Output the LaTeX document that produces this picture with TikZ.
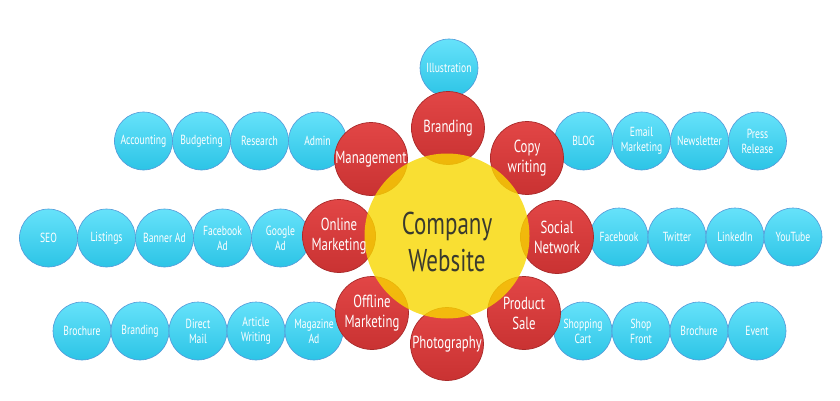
\documentclass[tikz,border=0pt]{standalone}
\usepackage{fontspec}
\setmainfont[FakeStretch=0.73]{PT Sans}
\begin{document}
\begin{tikzpicture}[x=1pt,y=-1pt,
  bluec/.style={circle,minimum size=58pt,inner sep=0pt,draw=cyan!60!blue!70!white,line width=0.6pt,
    top color=blueTop,bottom color=blueBot,text=white,font=\fontsize{13.2}{15}\selectfont,align=center},
  redc/.style={circle,minimum size=73pt,inner sep=0pt,draw=redEdge,line width=0.7pt,
    top color=redTop,bottom color=redBot},
  redlab/.style={text=white,font=\fontsize{17.5}{20}\selectfont,align=center,inner sep=0pt},
  yel/.style={circle,minimum size=165pt,inner sep=0pt,fill=yelFill,fill opacity=0.8},
  ]
\definecolor{blueTop}{HTML}{66E2FA}
\definecolor{blueBot}{HTML}{2CC4E6}
\definecolor{redTop}{HTML}{E24646}
\definecolor{redBot}{HTML}{C93232}
\definecolor{redEdge}{HTML}{A92A2A}
\definecolor{yelFill}{HTML}{F8D800}
\definecolor{textDark}{HTML}{3A3A2E}
\useasboundingbox (0,0) rectangle (840,401);
\fill[white] (0,0) rectangle (840,401);
% blue circles
\node[bluec] (ill) at (449,68) {Illustration};
\node[bluec] (acc) at (143.5,141) {Accounting};
\node[bluec] (bud) at (201.5,141) {Budgeting};
\node[bluec] (res) at (259.5,141) {Research};
\node[bluec] (adm) at (317.5,141) {Admin};
\node[bluec] (seo) at (48.5,238) {SEO};
\node[bluec] (lis) at (106.5,238) {Listings};
\node[bluec] (ban) at (164.5,238) {Banner Ad};
\node[bluec] (fba) at (222.5,238) {Facebook\\Ad};
\node[bluec] (goo) at (280.5,238) {Google\\Ad};
\node[bluec] (bro) at (82,331) {Brochure};
\node[bluec] (bra2) at (140,331) {Branding};
\node[bluec] (dir) at (198,331) {Direct\\Mail};
\node[bluec] (art) at (256,331) {Article\\Writing};
\node[bluec] (mag) at (314,331) {Magazine\\Ad};
\node[bluec] (blog) at (583.5,141) {BLOG};
\node[bluec] (ema) at (641.5,141) {Email\\Marketing};
\node[bluec] (new) at (699.5,141) {Newsletter};
\node[bluec] (pre) at (757.5,141) {Press\\Release};
\node[bluec] (fb) at (619,237) {Facebook};
\node[bluec] (tw) at (677,237) {Twitter};
\node[bluec] (li) at (735,237) {LinkedIn};
\node[bluec] (yt) at (793,237) {YouTube};
\node[bluec] (sho) at (583,331) {Shopping\\Cart};
\node[bluec] (shf) at (641,331) {Shop\\Front};
\node[bluec] (bro2) at (699,331) {Brochure};
\node[bluec] (eve) at (757,331) {Event};
% red circles
\node[redc] (bran) at (448,128) {};
\node[redc] (man) at (371,159) {};
\node[redc] (cop) at (527,158) {};
\node[redc] (onl) at (339,236) {};
\node[redc] (soc) at (557,237) {};
\node[redc] (off) at (372,313) {};
\node[redc] (pro) at (524,313) {};
\node[redc] (pho) at (447,344) {};
% yellow centre
\node[yel] (web) at (447,236) {};
% labels
\node[redlab] (lbran) at (bran.center) {Branding};
\node[redlab] (lman) at (man.center) {Management};
\node[redlab] (lcop) at (cop.center) {Copy\\writing};
\node[redlab] (lonl) at (onl.center) {Online\\Marketing};
\node[redlab] (lsoc) at (soc.center) {Social\\Network};
\node[redlab] (loff) at (off.center) {Offline\\Marketing};
\node[redlab] (lpro) at (pro.center) {Product\\Sale};
\node[redlab] (lpho) at (pho.center) {Photography};
\node[text=textDark,font=\fontsize{31.5}{37}\selectfont,align=center,inner sep=0pt] (lweb) at (447,242) {Company\\Website};
\end{tikzpicture}
\end{document}
